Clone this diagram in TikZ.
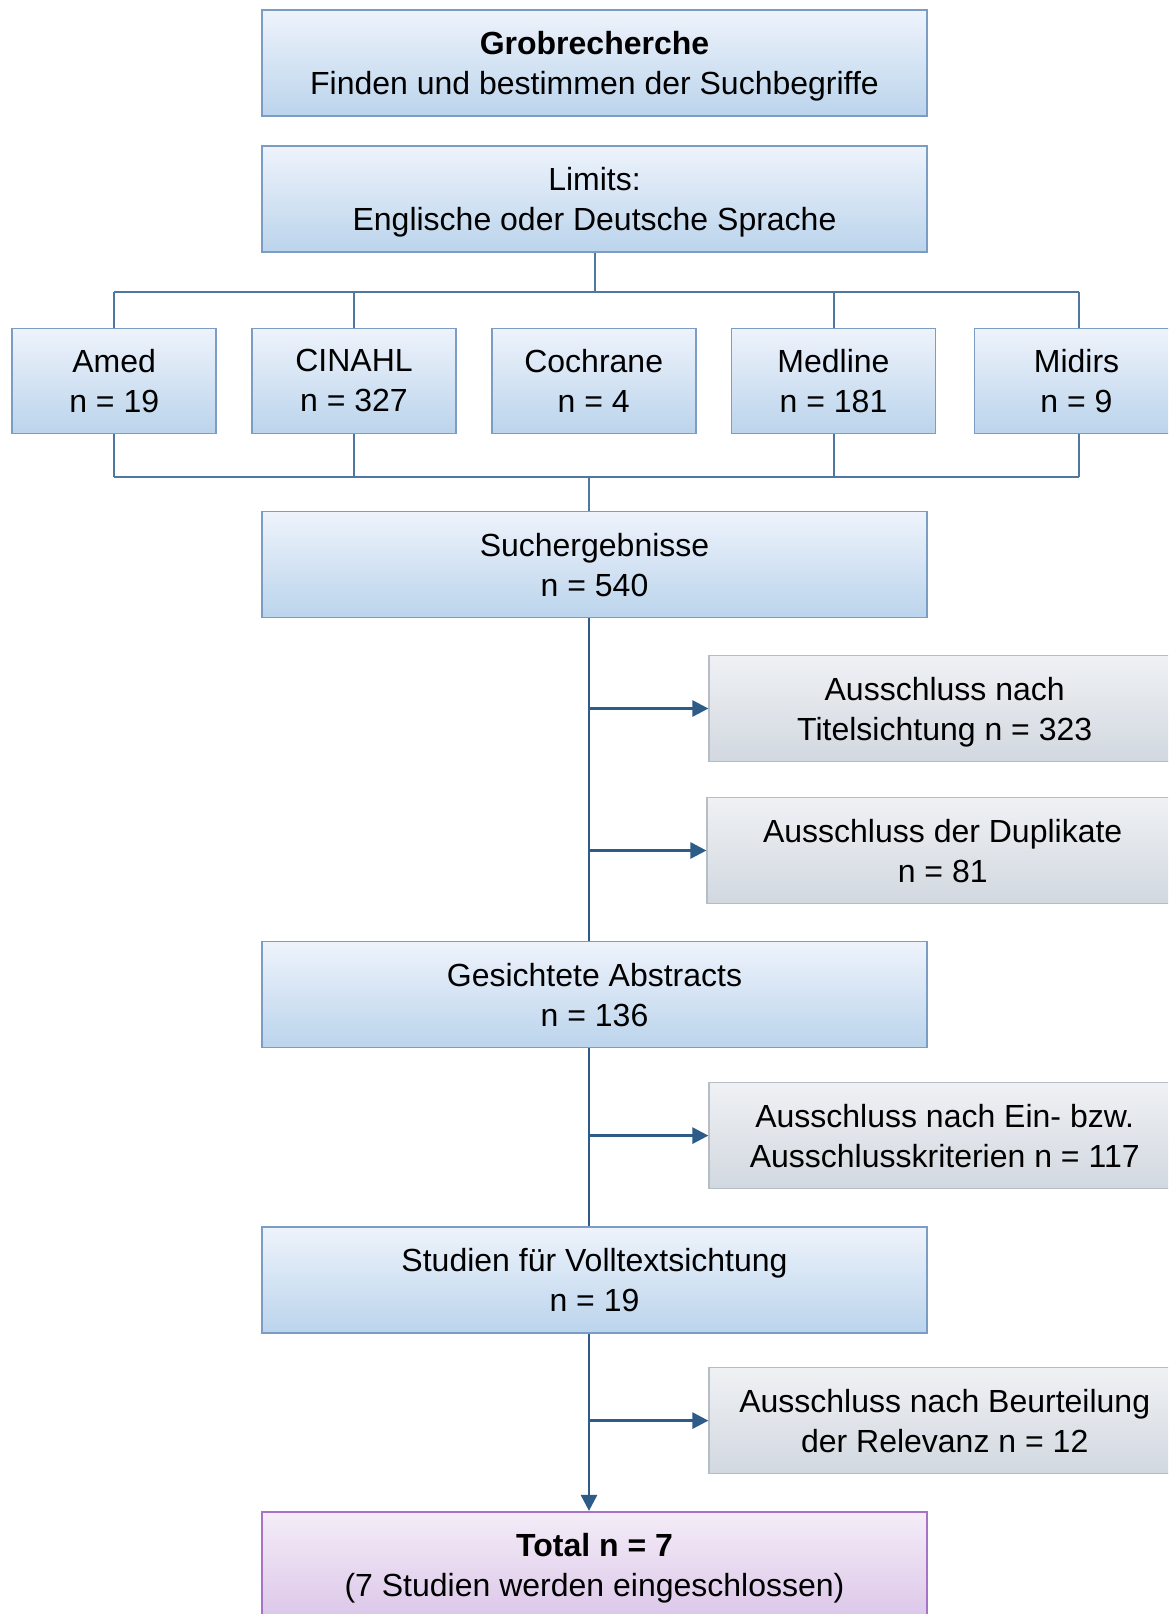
\documentclass[tikz,border=0pt]{standalone}
\usepackage{fontspec}
\setmainfont{Liberation Sans}
\usetikzlibrary{arrows.meta}
\definecolor{btop}{HTML}{EEF3FB}
\definecolor{bbot}{HTML}{BBD4EC}
\definecolor{bline}{HTML}{7C9DC3}
\definecolor{gtop}{HTML}{EFF1F4}
\definecolor{gbot}{HTML}{D2D8E0}
\definecolor{gline}{HTML}{B6BDC7}
\definecolor{ptop}{HTML}{F4EDF8}
\definecolor{pbot}{HTML}{DCC7E9}
\definecolor{pline}{HTML}{A673C6}
\definecolor{trunk}{HTML}{2E5C88}
\definecolor{busc}{HTML}{4F77A0}
\tikzset{
  box/.style={rectangle, draw, line width=1.6pt, inner sep=0pt, align=center,
    font=\fontsize{32}{40}\selectfont, text depth=0pt},
  bluebox/.style={box, draw=bline, top color=btop, bottom color=bbot,
    minimum width=665pt, minimum height=106pt},
  dbbox/.style={box, draw=bline, top color=btop, bottom color=bbot,
    minimum width=204pt, minimum height=105pt},
  graybox/.style={box, draw=gline, top color=gtop, bottom color=gbot,
    minimum width=471pt, minimum height=106pt},
  purplebox/.style={box, draw=pline, top color=ptop, bottom color=pbot,
    minimum width=665pt, minimum height=106pt},
  busline/.style={draw=busc, line width=2pt},
  mainline/.style={draw=trunk, line width=2.8pt},
  arrline/.style={draw=trunk, line width=2.8pt, -{Triangle[length=16pt,width=16pt]}},
}
\begin{document}
\begin{tikzpicture}[x=1pt,y=-1pt]
\useasboundingbox (0,0) rectangle (1168,1614);
\fill[white] (0,0) rectangle (1168,1614);
\clip (0,0) rectangle (1168,1614);

\node[bluebox] (grob) at (594.5,63.2) {\textbf{Grobrecherche}\\Finden und bestimmen der Suchbegriffe};
\node[bluebox] (lim) at (594.5,199) {Limits:\\Englische oder Deutsche Sprache};

\node[dbbox] (amed) at (114.2,380.8) {Amed\\n = 19};
\node[dbbox] (cin) at (354,380.8) {CINAHL\\n = 327};
\node[dbbox] (coch) at (593.7,380.8) {Cochrane\\n = 4};
\node[dbbox] (med) at (833.5,380.8) {Medline\\n = 181};
\node[dbbox] (mid) at (1076.5,380.8) {Midirs\\n = 9};

\node[bluebox] (such) at (594.5,564.6) {Suchergebnisse\\n = 540};
\node[graybox] (ex1) at (944.7,708.5) {Ausschluss nach\\Titelsichtung n = 323};
\node[graybox] (ex2) at (942.7,850.5) {Ausschluss der Duplikate\\n = 81};
\node[bluebox] (abst) at (594.5,994.6) {Gesichtete Abstracts\\n = 136};
\node[graybox] (ex3) at (944.7,1135.6) {Ausschluss nach Ein- bzw.\\Ausschlusskriterien n = 117};
\node[bluebox] (stud) at (594.5,1279.7) {Studien für Volltextsichtung\\n = 19};
\node[graybox] (ex4) at (944.7,1420.6) {Ausschluss nach Beurteilung\\der Relevanz n = 12};
\node[purplebox] (tot) at (594.5,1564.7) {\textbf{Total n = 7}\\(7 Studien werden eingeschlossen)};

% buses
\coordinate (bt) at (0,291.5);
\coordinate (bb) at (0,477);
\coordinate (tr) at (589,0);
\coordinate (midx) at (1078.5,0);

\draw[busline] (lim.south) -- (lim.south |- bt);
\draw[busline] (amed.north |- bt) -- (midx |- bt);
\draw[busline] (amed.north) -- (amed.north |- bt);
\draw[busline] (cin.north) -- (cin.north |- bt);
\draw[busline] (med.north) -- (med.north |- bt);
\draw[busline] (midx |- mid.north) -- (midx |- bt);

\draw[busline] (amed.south |- bb) -- (midx |- bb);
\draw[busline] (amed.south) -- (amed.south |- bb);
\draw[busline] (cin.south) -- (cin.south |- bb);
\draw[busline] (med.south) -- (med.south |- bb);
\draw[busline] (midx |- mid.south) -- (midx |- bb);
\draw[busline] (tr |- bb) -- (tr |- such.north);

% trunk
\draw[mainline] (tr |- such.south) -- (tr |- abst.north);
\draw[arrline] (tr |- ex1.west) -- (ex1.west);
\draw[arrline] (tr |- ex2.west) -- (ex2.west);
\draw[mainline] (tr |- abst.south) -- (tr |- stud.north);
\draw[arrline] (tr |- ex3.west) -- (ex3.west);
\draw[arrline] (tr |- stud.south) -- (tr |- tot.north);
\draw[arrline] (tr |- ex4.west) -- (ex4.west);
\end{tikzpicture}
\end{document}
